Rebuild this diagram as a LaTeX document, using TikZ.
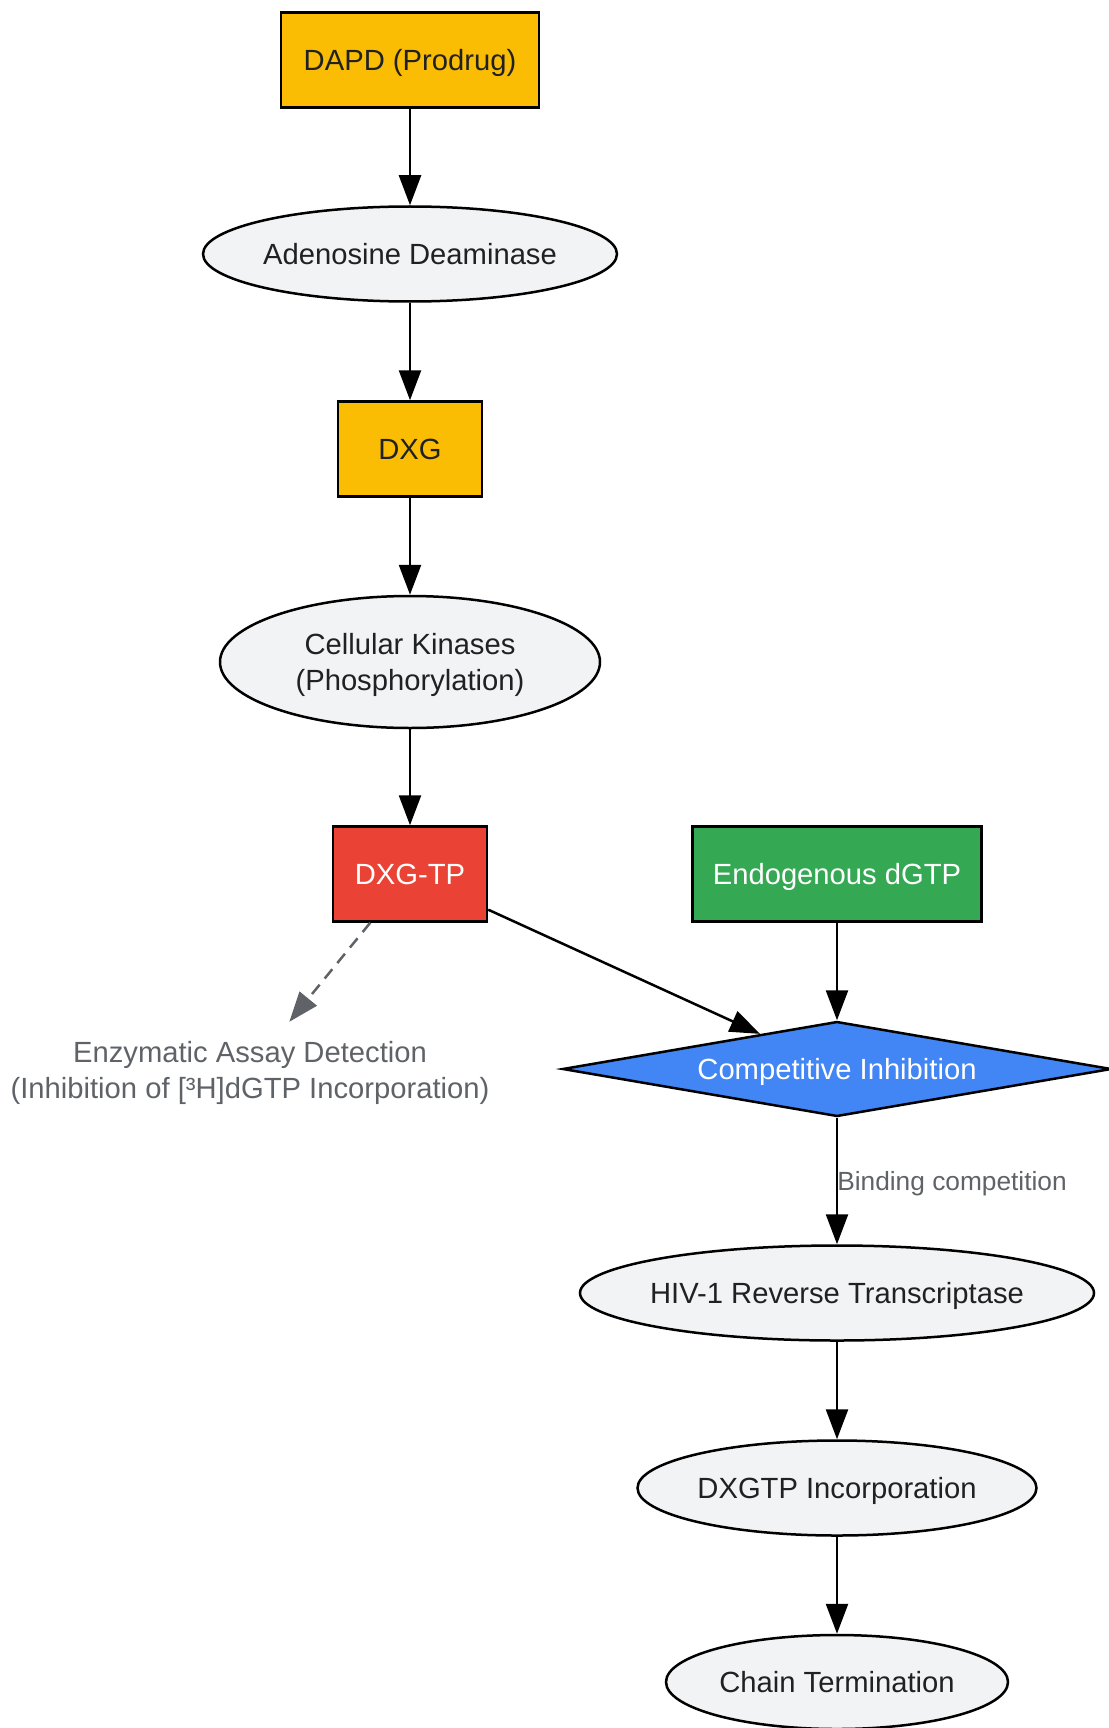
\documentclass[tikz,border=0pt]{standalone}
\usepackage{fontspec}
\setmainfont{Liberation Sans}
\usetikzlibrary{shapes.geometric,arrows.meta}
\definecolor{cyel}{HTML}{FBBC04}
\definecolor{cred}{HTML}{EA4335}
\definecolor{cgrn}{HTML}{34A853}
\definecolor{cblu}{HTML}{4285F4}
\definecolor{cgry}{HTML}{F1F3F4}
\definecolor{ctxt}{HTML}{202124}
\definecolor{cmut}{HTML}{5F6368}
\begin{document}
\begin{tikzpicture}[x=1pt,y=-1pt,
  base/.style={draw=black, line width=2.5pt, inner sep=0pt, text=ctxt, align=center,
    text depth=0pt, font=\fontsize{29.2}{36}\selectfont},
  boxnode/.style={base, rectangle},
  ellnode/.style={base, ellipse, fill=cgry, inner xsep=-15pt},
  arr/.style={line width=2.5pt, draw=black, -{Triangle[length=30pt,width=22pt]}},
  darr/.style={line width=2.5pt, draw=cmut, dash pattern=on 12pt off 8pt, -{Triangle[length=30pt,width=22pt,fill=cmut]}},
  lbl/.style={text=cmut, inner sep=0pt, text depth=0pt, font=\fontsize{26.3}{30}\selectfont}
]
\useasboundingbox (0,0) rectangle (1108,1728);

\node[boxnode, fill=cyel, minimum width=258pt, minimum height=95pt] (dapd) at (410,60) {DAPD (Prodrug)};
\node[ellnode, minimum width=414pt, minimum height=95pt] (ada) at (410,254) {Adenosine Deaminase};
\node[boxnode, fill=cyel, minimum width=144pt, minimum height=95pt] (dxg) at (410,449) {DXG};
\node[ellnode, minimum width=380pt, minimum height=132pt] (kin) at (410,662) {Cellular Kinases\\(Phosphorylation)};
\node[boxnode, fill=cred, text=white, minimum width=154pt, minimum height=95pt] (dxgtp) at (410,874) {DXG-TP};
\node[boxnode, fill=cgrn, text=white, minimum width=289pt, minimum height=95pt] (dgtp) at (837,874) {Endogenous dGTP};
\node[base, diamond, fill=cblu, text=white, aspect=5.78, minimum width=549pt, minimum height=95pt] (ci) at (837,1069) {Competitive Inhibition};
\node[align=center, text=cmut, inner sep=0pt, text depth=0pt, minimum height=96pt, font=\fontsize{29.2}{36}\selectfont] (enz) at (250,1070) {Enzymatic Assay Detection\\(Inhibition of [³H]dGTP Incorporation)};
\node[ellnode, minimum width=514pt, minimum height=95pt] (hiv) at (837,1293) {HIV-1 Reverse Transcriptase};
\node[ellnode, minimum width=399pt, minimum height=95pt] (inc) at (837,1488) {DXGTP Incorporation};
\node[ellnode, minimum width=342pt, minimum height=94pt] (term) at (837,1682) {Chain Termination};

\draw[arr] (dapd) -- (ada);
\draw[arr] (ada) -- (dxg);
\draw[arr] (dxg) -- (kin);
\draw[arr] (kin) -- (dxgtp);
\draw[darr] (dxgtp) -- (enz);
\draw[arr] (dxgtp) -- (ci);
\draw[arr] (dgtp) -- (ci);
\draw[arr] (ci) -- node[lbl, pos=0.5, anchor=west, xshift=-1pt] (bc) {Binding competition} (hiv);
\draw[arr] (hiv) -- (inc);
\draw[arr] (inc) -- (term);
\end{tikzpicture}
\end{document}
